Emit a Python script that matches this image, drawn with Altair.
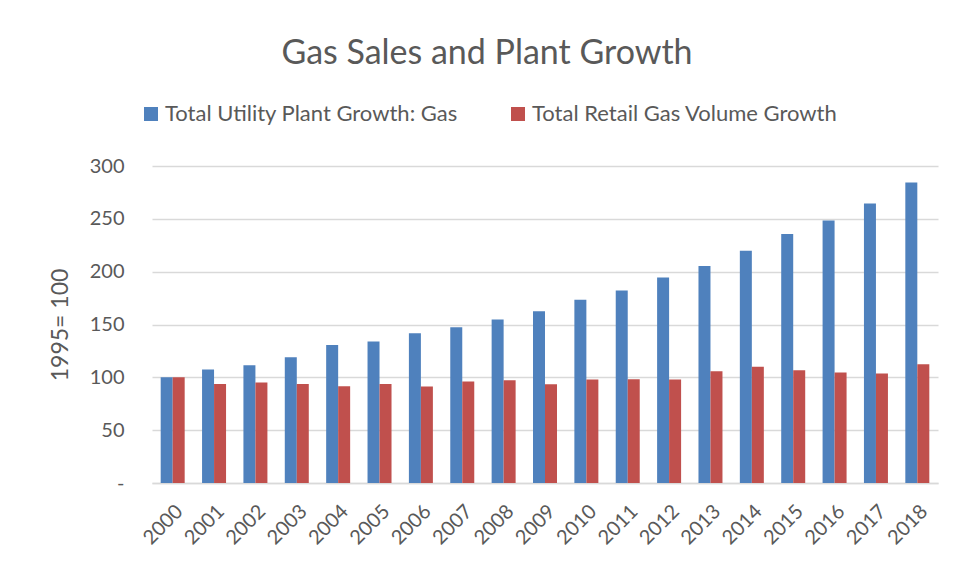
import altair as alt
import pandas as pd

years = [str(y) for y in range(2000, 2019)]
plant_growth = [100, 107.4, 111.5, 119, 130.7, 134, 141.8, 147.5, 154.8, 162.6,
                173.4, 182.2, 194.5, 205.3, 219.8, 235.6, 248.5, 264.6, 284.5]
retail_growth = [100, 93.8, 95, 93.8, 91.6, 93.8, 91.3, 96, 97.3, 93.5,
                 97.9, 98.2, 97.9, 105.8, 109.9, 106.8, 104.6, 103.6, 112.4]
series_names = ["Total Utility Plant Growth: Gas", "Total Retail Gas Volume Growth"]
series_colors = ["#4F81BD", "#C0504D"]
y_ticks = [0, 50, 100, 150, 200, 250, 300]

rows = []
for i, yr in enumerate(years):
    rows.append({"year": yr, "series": series_names[0], "value": plant_growth[i]})
    rows.append({"year": yr, "series": series_names[1], "value": retail_growth[i]})
df = pd.DataFrame(rows)

FONT = "Lato"
GREY = "#595959"

chart = alt.Chart(df).mark_bar().encode(
    x=alt.X("year:N", sort=years, title=None,
            scale=alt.Scale(paddingInner=0.42, paddingOuter=0.21),
            axis=alt.Axis(labelAngle=-45, labelFontSize=20, labelFont=FONT,
                          labelColor=GREY, ticks=False, domainColor="#D9D9D9",
                          domainWidth=1.5, labelPadding=18)),
    xOffset=alt.XOffset("series:N", sort=series_names),
    y=alt.Y("value:Q", title="1995= 100",
            scale=alt.Scale(domain=[0, 300], nice=False),
            axis=alt.Axis(values=y_ticks, labelExpr="datum.value == 0 ? '-' : datum.label",
                          labelFontSize=20, labelFont=FONT, labelColor=GREY,
                          ticks=False, domain=False, gridColor="#D9D9D9", gridWidth=1.5,
                          labelPadding=28, titleFontSize=23, titleFont=FONT,
                          titleColor=GREY, titleFontWeight="normal", titlePadding=17)),
    color=alt.Color("series:N", sort=series_names,
                    scale=alt.Scale(domain=series_names, range=series_colors),
                    legend=alt.Legend(title=None, orient="none", direction="horizontal",
                                      legendX=-12, legendY=-63, symbolType="square",
                                      symbolSize=196, symbolStrokeWidth=0,
                                      labelFontSize=22, labelFont=FONT, labelColor=GREY,
                                      labelLimit=0, columnPadding=49, labelOffset=3)),
).properties(
    width=786, height=317,
    title=alt.TitleParams("Gas Sales and Plant Growth", fontSize=34, font=FONT,
                          fontWeight="normal", color=GREY, anchor="middle",
                          dx=-58, offset=32),
    autosize=alt.AutoSizeParams(type="none"),
    padding={"left": 144, "top": 158, "right": 16, "bottom": 70},
).configure_view(stroke=None)

chart.save("out.html", embed_options={"renderer": "svg", "actions": False})
